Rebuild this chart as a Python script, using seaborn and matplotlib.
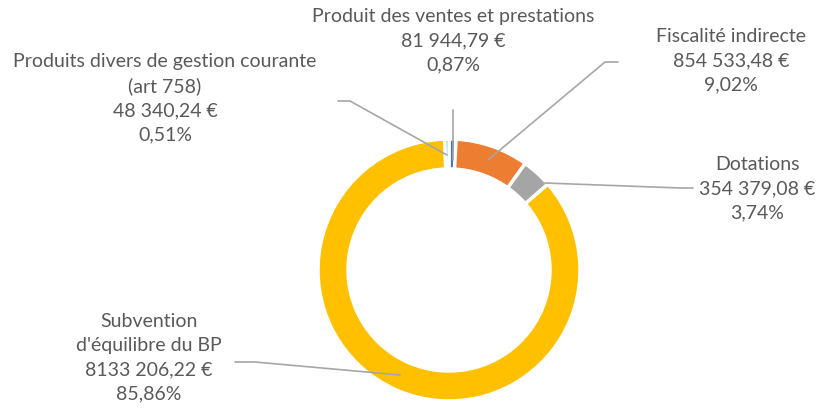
import matplotlib
matplotlib.use("Agg")
import matplotlib.pyplot as plt
import seaborn as sns

# données du graphique (ordre Excel, sens horaire depuis midi)
categories = ["Produit des ventes et prestations", "Fiscalité indirecte", "Dotations",
              "Subvention\nd'équilibre du BP", "Produits divers de gestion courante\n(art 758)"]
amounts = [81944.79, 854533.48, 354379.08, 8133206.22, 48340.24]
amount_labels = ["81 944,79 €", "854 533,48 €", "354 379,08 €", "8133 206,22 €", "48 340,24 €"]
colors = ["#4472C4", "#ED7D31", "#A5A5A5", "#FFC000", "#5B9BD5"]

sns.set_theme(style="white")
plt.rcParams["font.family"] = ["Lato", "DejaVu Sans"]

W, H = 822, 411
fig = plt.figure(figsize=(W / 100, H / 100), dpi=100)
ax = fig.add_axes([0, 0, 1, 1])

cx, cy, r = 449, H - 270, 131
ax.pie(amounts, colors=colors, startangle=90, counterclock=False,
       center=(cx, cy), radius=r, frame=True,
       wedgeprops=dict(width=30, edgecolor="white", linewidth=2.5))
ax.set_xlim(0, W)
ax.set_ylim(0, H)
ax.axis("off")

total = sum(amounts)

def label_text(i):
    pct = amounts[i] / total * 100
    return f"{categories[i]}\n{amount_labels[i]}\n{pct:.2f}%".replace(".", ",")

# position du texte (centre, haut) et tracé de la ligne de rappel, en pixels
text_pos = [(453, 8), (731, 28), (757, 156), (149, 313), (165, 53)]
leaders = [
    [(453, 110), (453, 160)],
    [(618, 62), (605, 62), (488, 160)],
    [(693, 188), (680, 188), (545, 183)],
    [(235, 362), (255, 362), (400, 375)],
    [(338, 101), (350, 101), (447, 155)],
]

txt_color = "#595959"
line_color = "#A6A6A6"
for i in range(len(amounts)):
    x, y = text_pos[i]
    ax.text(x, H - y, label_text(i), ha="center", va="top", fontsize=14,
            color=txt_color, linespacing=1.5)
    pts = leaders[i]
    ax.plot([p[0] for p in pts], [H - p[1] for p in pts], color=line_color, lw=1.2)

fig.savefig("out.png", dpi=100)
